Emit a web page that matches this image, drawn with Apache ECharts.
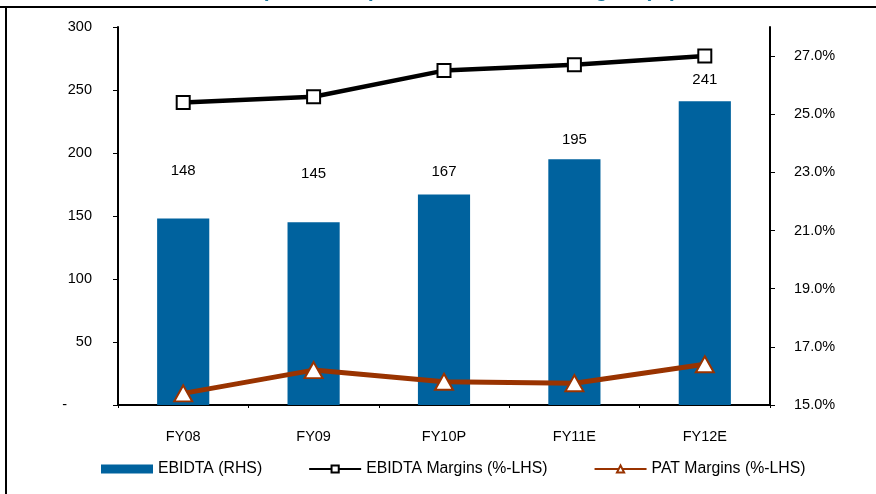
<!DOCTYPE html>
<html>
<head>
<meta charset="utf-8">
<script src="https://cdn.jsdelivr.net/npm/echarts@6/dist/echarts.min.js"></script>
<style>
  html, body { margin: 0; padding: 0; background: #fff; }
  #chart { width: 876px; height: 494px; }
</style>
</head>
<body>
<div id="chart"></div>
<script>
// Financial years on the category axis
const categories = ['FY08', 'FY09', 'FY10P', 'FY11E', 'FY12E'];
// EBIDTA in Rs mn (bars, left scale)
const ebidta = [148, 145, 167, 195, 241];
// Margins in percent (lines, right scale)
const ebidtaMargin = [25.4, 25.6, 26.5, 26.7, 27.0];
const patMargin = [15.4, 16.2, 15.8, 15.75, 16.4];
// Axis tick values
const leftTicks = [0, 50, 100, 150, 200, 250, 300];
const rightTicks = [15, 17, 19, 21, 23, 25, 27];

// Vertical nudges for the value labels above the bars
const barLabelLift = [-35, -36, -10, -7, -9];

const FONT = 'Liberation Sans, Arial, sans-serif';
const chart = echarts.init(document.getElementById('chart'), null, { renderer: 'canvas' });

const barData = ebidta.map((v, i) => ({
  value: v,
  label: { offset: [0, barLabelLift[i]] }
}));

chart.setOption({
  animation: false,
  backgroundColor: '#ffffff',
  textStyle: { fontFamily: FONT },
  graphic: [
    {
      type: 'text', x: 428, y: -19,
      style: {
        text: 'EBIDTA (Rs million), EBIDTA and PAT Margins (%)',
        font: 'bold 21px ' + FONT, fill: '#16779f', align: 'center'
      }
    },
    { type: 'rect', shape: { x: 0, y: 6, width: 876, height: 2 }, style: { fill: '#000' } },
    { type: 'rect', shape: { x: 5, y: 6, width: 2, height: 488 }, style: { fill: '#000' } }
  ],
  legend: {
    left: 96, top: 456,
    itemWidth: 52, itemHeight: 9, itemGap: 46,
    textStyle: { fontFamily: FONT, fontSize: 15.8, color: '#000' },
    data: [
      { name: 'EBIDTA (RHS)', icon: 'rect' },
      { name: 'EBIDTA Margins (%-LHS)' },
      { name: 'PAT Margins (%-LHS)' }
    ]
  },
  grid: { left: 118, right: 106, top: 27, bottom: 89 },
  xAxis: {
    type: 'category',
    data: categories,
    axisLine: { lineStyle: { color: '#000', width: 2 } },
    axisTick: { show: true, length: 3, lineStyle: { color: '#000' } },
    axisLabel: { color: '#000', fontSize: 14.5, margin: 24, fontFamily: FONT }
  },
  yAxis: [
    {
      type: 'value', min: 0, max: 300, interval: 50,
      axisLine: { show: true, lineStyle: { color: '#000', width: 2 } },
      axisTick: { show: true, length: 5, lineStyle: { color: '#000' }, customValues: leftTicks },
      splitLine: { show: false },
      axisLabel: {
        color: '#000', fontSize: 14.5, margin: 26, fontFamily: FONT,
        customValues: leftTicks,
        formatter: v => (v === 0 ? '{dash|-}' : String(v)),
        rich: { dash: { fontSize: 14.5, color: '#000', padding: [0, 25, 0, 0] } }
      }
    },
    {
      type: 'value', min: 15, max: 28, interval: 2, position: 'right',
      axisLine: { show: true, lineStyle: { color: '#000', width: 2 } },
      axisTick: { show: true, length: 5, lineStyle: { color: '#000' }, customValues: rightTicks },
      splitLine: { show: false },
      axisLabel: {
        color: '#000', fontSize: 14.5, margin: 24, fontFamily: FONT,
        customValues: rightTicks,
        formatter: v => v.toFixed(1) + '%'
      }
    }
  ],
  series: [
    {
      name: 'EBIDTA (RHS)',
      type: 'bar',
      yAxisIndex: 0,
      data: barData,
      barWidth: '40%',
      itemStyle: { color: '#00629e' },
      label: { show: true, position: 'top', color: '#000', fontSize: 15, fontFamily: FONT }
    },
    {
      name: 'EBIDTA Margins (%-LHS)',
      type: 'line',
      yAxisIndex: 1,
      data: ebidtaMargin,
      symbol: 'rect', symbolSize: 13,
      lineStyle: { color: '#000', width: 4.5 },
      itemStyle: { color: '#fff', borderColor: '#000', borderWidth: 2 },
      z: 5
    },
    {
      name: 'PAT Margins (%-LHS)',
      type: 'line',
      yAxisIndex: 1,
      data: patMargin,
      symbol: 'triangle', symbolSize: [18, 16],
      lineStyle: { color: '#993300', width: 5 },
      itemStyle: { color: '#fff', borderColor: '#993300', borderWidth: 2 },
      z: 5
    }
  ]
});
</script>
</body>
</html>
